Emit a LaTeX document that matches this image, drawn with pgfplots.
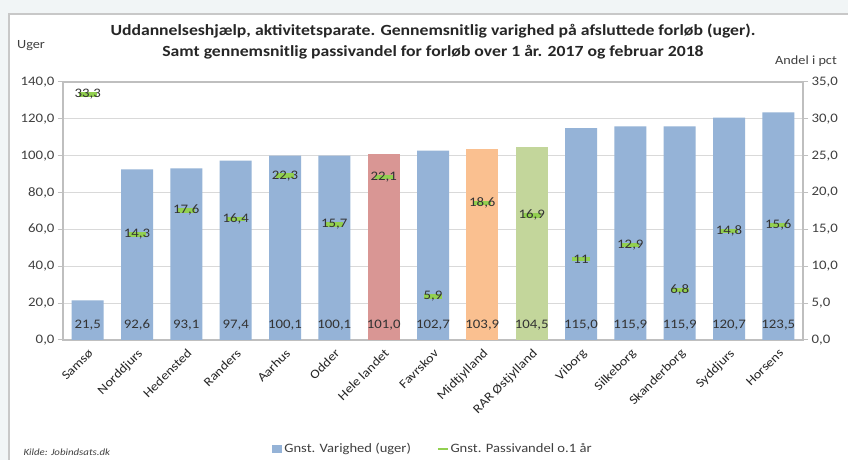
\documentclass[border=0pt]{standalone}
\usepackage{fontspec}
\setmainfont{Carlito}[FakeStretch=1.14]
\usepackage{pgfplots}
\pgfplotsset{compat=1.18}
\definecolor{bgc}{HTML}{F1F5F6}
\definecolor{framec}{HTML}{C8C8C8}
\definecolor{barblue}{HTML}{95B3D7}
\definecolor{barred}{HTML}{D99694}
\definecolor{barorange}{HTML}{FAC090}
\definecolor{bargreen}{HTML}{C3D69B}
\definecolor{markgreen}{HTML}{92D050}
\definecolor{gridc}{HTML}{D9D9D9}
\definecolor{axc}{HTML}{BFBFBF}
\definecolor{txt}{HTML}{404040}
\begin{document}
\begin{tikzpicture}
\useasboundingbox (0pt,0pt) rectangle (848pt,460pt);
\fill[bgc] (0pt,0pt) rectangle (848pt,460pt);
\fill[white] (9pt,0pt) rectangle (848pt,446pt);
\draw[framec, line width=1.5pt] (9pt,0pt) -- (9pt,446pt) -- (848pt,446pt);
\node[font=\bfseries\fontsize{15.5}{21}\selectfont, align=center, text=black!85] at (433pt,418pt) {Uddannelseshjælp,\ aktivitetsparate. Gennemsnitlig varighed på afsluttede forløb (uger).\\Samt gennemsnitlig passivandel for forløb over 1 år. 2017 og februar 2018};
\node[font=\fontsize{12.5}{14}\selectfont, text=txt] at (31pt,414pt) {Uger};
\node[font=\fontsize{12.5}{14}\selectfont, text=txt] at (806pt,399pt) {Andel i pct};
\node[font=\itshape\fontsize{9.5}{12}\selectfont, text=txt, anchor=west] at (20pt,8pt) {Kilde: Jobindsats.dk};
\begin{axis}[
  at={(63pt,120pt)}, anchor=south west, scale only axis,
  width=740pt, height=258pt,
  xmin=-0.5, xmax=14.5, ymin=0, ymax=140,
  ytick={0,20,...,140},
  xtick={0,...,14},
  xticklabels={Samsø,Norddjurs,Hedensted,Randers,Aarhus,Odder,Hele landet,Favrskov,Midtjylland,RAR Østjylland,Viborg,Silkeborg,Skanderborg,Syddjurs,Horsens},
  minor xtick={-0.5,0.5,...,14.5},
  x tick label style={rotate=45, anchor=north east, font=\fontsize{12.5}{13}\selectfont, text=black!85, inner sep=2pt},
  y tick label style={font=\fontsize{13}{13}\selectfont, text=txt},
  yticklabel style={/pgf/number format/.cd, fixed, fixed zerofill, precision=1, use comma, 1000 sep={}},
  /pgf/number format/assume math mode=true,
  ytick pos=left, xtick pos=bottom,
  tick align=outside,
  major tick length=5pt, minor tick length=5pt,
  xtick style={draw=none},
  minor tick style={axc, line width=1pt},
  ytick style={axc, line width=1pt},
  axis line style={axc, line width=1.2pt},
  ymajorgrids, grid style={gridc, line width=1.2pt},
  clip=false,
  legend style={at={(0.5,-0.4225)}, anchor=center, draw=none, fill=none, legend columns=2, font=\fontsize{12.8}{14}\selectfont, text=txt, /tikz/every even column/.append style={column sep=24pt}, inner sep=0pt},
  legend cell align=left,
]
\addplot[ybar, bar width=32pt, bar shift=0pt, fill=barblue, draw=none,
  area legend, legend image code/.code={\fill[barblue] (0pt,-4pt) rectangle (10pt,4pt);}]
  coordinates {(0,21.5) (1,92.6) (2,93.1) (3,97.4) (4,100.1) (5,100.1) (7,102.7) (10,115.0) (11,115.9) (12,115.9) (13,120.7) (14,123.5)};
\addlegendentry{Gnst. Varighed (uger)}
\addplot[ybar, bar width=32pt, bar shift=0pt, fill=barred, draw=none, forget plot] coordinates {(6,101.0)};
\addplot[ybar, bar width=32pt, bar shift=0pt, fill=barorange, draw=none, forget plot] coordinates {(8,103.9)};
\addplot[ybar, bar width=32pt, bar shift=0pt, fill=bargreen, draw=none, forget plot] coordinates {(9,104.5)};
\addplot[draw=none, mark=none, forget plot, nodes near coords, point meta=explicit symbolic,
  nodes near coords style={anchor=center, font=\fontsize{13}{13}\selectfont, text=black!80}]
  coordinates {(0,8.1)[21,5] (1,8.1)[92,6] (2,8.1)[93,1] (3,8.1)[97,4] (4,8.1)[100,1] (5,8.1)[100,1] (6,8.1)[101,0] (7,8.1)[102,7] (8,8.1)[103,9] (9,8.1)[104,5] (10,8.1)[115,0] (11,8.1)[115,9] (12,8.1)[115,9] (13,8.1)[120,7] (14,8.1)[123,5]};
\addlegendimage{markgreen, line width=1.5pt, legend image code/.code={\draw[markgreen, line width=1.5pt] (0pt,0pt) -- (10pt,0pt);}}
\addlegendentry{Gnst. Passivandel o.1 år}
\end{axis}
\begin{axis}[
  at={(63pt,120pt)}, anchor=south west, scale only axis,
  width=740pt, height=258pt,
  xmin=-0.5, xmax=14.5, ymin=0, ymax=35,
  ytick={0,5,...,35},
  axis y line*=right, axis x line=none,
  y tick label style={font=\fontsize{13}{13}\selectfont, text=txt},
  yticklabel style={/pgf/number format/.cd, fixed, fixed zerofill, precision=1, use comma},
  /pgf/number format/assume math mode=true,
  tick align=outside, major tick length=5pt,
  ytick style={axc, line width=1pt},
  axis line style={axc, line width=1.2pt, -},
  clip=false,
]
\addplot[only marks, mark=-, mark size=9pt, mark options={markgreen, line width=4.5pt},
  nodes near coords, point meta=explicit symbolic,
  nodes near coords style={anchor=center, font=\fontsize{13}{13}\selectfont, text=black!80}]
  coordinates {(0,33.3)[33,3] (1,14.3)[14,3] (2,17.6)[17,6] (3,16.4)[16,4] (4,22.3)[22,3] (5,15.7)[15,7] (6,22.1)[22,1] (7,5.9)[5,9] (8,18.6)[18,6] (9,16.9)[16,9] (10,11)[11] (11,12.9)[12,9] (12,6.8)[6,8] (13,14.8)[14,8] (14,15.6)[15,6]};
\end{axis}
\end{tikzpicture}
\end{document}
